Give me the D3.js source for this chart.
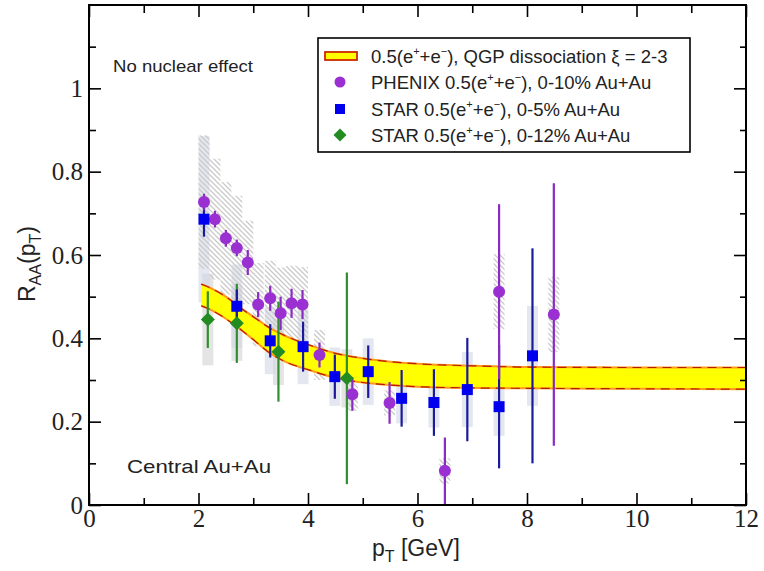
<!DOCTYPE html>
<html><head><meta charset="utf-8">
<script src="https://cdn.jsdelivr.net/npm/d3@7"></script>
<style>body{margin:0;background:#fff}</style>
</head><body>
<svg id="chart" width="764" height="571"></svg>
<script>
// ---- data ----
const phenixPt   = [2.10, 2.30, 2.50, 2.70, 2.90, 3.09, 3.31, 3.50, 3.70, 3.90, 4.21, 4.81, 5.49, 6.50, 7.49, 8.49];
const phenixRaa  = [0.727, 0.686, 0.640, 0.617, 0.582, 0.481, 0.496, 0.460, 0.484, 0.481, 0.360, 0.266, 0.245, 0.082, 0.512, 0.457];
const phenixStat = [0.02, 0.02, 0.02, 0.02, 0.03, 0.03, 0.03, 0.04, 0.035, 0.035, 0.03, 0.04, 0.05, 0.08, 0.21, 0.315];
const phenixSys  = [0.16, 0.145, 0.135, 0.125, 0.10, 0.10, 0.09, 0.11, 0.09, 0.09, 0.06, 0.04, 0.03, 0.03, 0.09, 0.09];

const star5Pt   = [2.10, 2.70, 3.31, 3.91, 4.49, 5.10, 5.71, 6.30, 6.91, 7.49, 8.10];
const star5Raa  = [0.686, 0.477, 0.394, 0.380, 0.308, 0.320, 0.256, 0.246, 0.277, 0.236, 0.358];
const star5Stat = [0.042, 0.040, 0.040, 0.060, 0.053, 0.063, 0.068, 0.080, 0.124, 0.148, 0.258];
const star5Sys  = [0.20, 0.10, 0.08, 0.09, 0.07, 0.08, 0.06, 0.06, 0.09, 0.07, 0.12];

const star12Pt   = [2.17, 2.70, 3.46, 4.71];
const star12Raa  = [0.445, 0.436, 0.368, 0.304];
const star12Stat = [0.068, 0.095, 0.120, 0.254];
const star12Sys  = [0.11, 0.09, 0.08, 0.07];

const bandPt = [2.05, 2.2, 2.5, 2.8, 3.0, 3.3, 3.6, 4.0, 4.5, 5.0, 5.5, 6.0, 7.0, 8.0, 10.0, 12.0];
const bandHi = [0.530, 0.522, 0.500, 0.470, 0.452, 0.425, 0.405, 0.385, 0.364, 0.352, 0.344, 0.339, 0.334, 0.331, 0.330, 0.330];
const bandLo = [0.478, 0.470, 0.447, 0.418, 0.397, 0.365, 0.343, 0.325, 0.305, 0.294, 0.288, 0.284, 0.281, 0.280, 0.279, 0.278];

const xMajor = [0, 2, 4, 6, 8, 10, 12];
const xMinor = [1, 3, 5, 7, 9, 11];
const yMajor = [0, 0.2, 0.4, 0.6, 0.8, 1.0];
const yMinor = [0.1, 0.3, 0.5, 0.7, 0.9, 1.1];

// ---- layout ----
const L = 89, R = 746, T = 5, B = 505;
const x = d3.scaleLinear().domain([0, 12]).range([L, R]);
const y = d3.scaleLinear().domain([0, 1.2]).range([B, T]);
const svg = d3.select("#chart");

const defs = svg.append("defs");
const pat = defs.append("pattern").attr("id", "hatch").attr("patternUnits", "userSpaceOnUse")
  .attr("width", 5).attr("height", 5);
pat.append("path").attr("d", "M-1,-1 L6,6 M-1,4 L1,6 M4,-1 L6,1").attr("stroke", "#cacaca").attr("stroke-width", 1.3);
defs.append("clipPath").attr("id", "plotclip").append("rect")
  .attr("x", L).attr("y", T).attr("width", R - L).attr("height", B - T);

const plot = svg.append("g").attr("clip-path", "url(#plotclip)");

// STAR systematic boxes
const sysW = 0.1;
function sysBoxes(pts, vals, sys, fill) {
  plot.append("g").selectAll("rect").data(pts).join("rect")
    .attr("x", d => x(d - sysW)).attr("width", x(2 * sysW) - x(0))
    .attr("y", (d, i) => y(vals[i] + sys[i]))
    .attr("height", (d, i) => y(vals[i] - sys[i]) - y(vals[i] + sys[i]))
    .attr("fill", fill);
}
sysBoxes(star12Pt, star12Raa, star12Sys, "rgba(210,210,210,0.6)");
sysBoxes(star5Pt, star5Raa, star5Sys, "rgba(210,215,228,0.6)");

// PHENIX hatched systematics
plot.append("g").selectAll("rect").data(phenixPt).join("rect")
  .attr("x", d => x(d - sysW)).attr("width", x(2 * sysW) - x(0))
  .attr("y", (d, i) => y(phenixRaa[i] + phenixSys[i]))
  .attr("height", (d, i) => y(phenixRaa[i] - phenixSys[i]) - y(phenixRaa[i] + phenixSys[i]))
  .attr("fill", "url(#hatch)");

// theory band
const band = bandPt.map((p, i) => ({p, hi: bandHi[i], lo: bandLo[i]}));
plot.append("path").datum(band)
  .attr("d", d3.area().x(d => x(d.p)).y0(d => y(d.lo)).y1(d => y(d.hi)).curve(d3.curveMonotoneX))
  .attr("fill", "#ffff00");
["hi", "lo"].forEach(k => {
  const ln = d3.line().x(d => x(d.p)).y(d => y(d[k])).curve(d3.curveMonotoneX);
  plot.append("path").datum(band).attr("d", ln).attr("fill", "none").attr("stroke", "#ff9a1a").attr("stroke-width", 2);
  plot.append("path").datum(band).attr("d", ln).attr("fill", "none").attr("stroke", "#b81c00").attr("stroke-width", 1.2).attr("stroke-dasharray", "9,6");
});

// error bars
function errBars(pts, vals, err, color) {
  plot.append("g").selectAll("line").data(pts).join("line")
    .attr("x1", d => x(d)).attr("x2", d => x(d))
    .attr("y1", (d, i) => y(vals[i] + err[i])).attr("y2", (d, i) => y(vals[i] - err[i]))
    .attr("stroke", color).attr("stroke-width", 2.2);
}
errBars(star12Pt, star12Raa, star12Stat, "#2f8f2f");
errBars(star5Pt, star5Raa, star5Stat, "#1a1a9a");
errBars(phenixPt, phenixRaa, phenixStat, "#8a2bc2");

// markers
plot.append("g").selectAll("circle").data(phenixPt).join("circle")
  .attr("cx", d => x(d)).attr("cy", (d, i) => y(phenixRaa[i])).attr("r", 6)
  .attr("fill", "#9a2fd2");
plot.append("g").selectAll("rect").data(star5Pt).join("rect")
  .attr("x", d => x(d) - 5.5).attr("y", (d, i) => y(star5Raa[i]) - 5.5)
  .attr("width", 11).attr("height", 11).attr("fill", "#0000ee");
plot.append("g").selectAll("path").data(star12Pt).join("path")
  .attr("transform", (d, i) => `translate(${x(d)},${y(star12Raa[i])})`)
  .attr("d", "M0,-7 L7,0 L0,7 L-7,0 Z").attr("fill", "#228b22");

// ---- axes ----
const tickFont = "Liberation Serif, Times New Roman, serif";
function styleAxis(g) {
  g.select(".domain").remove();
  g.selectAll("line").attr("stroke", "#000").attr("stroke-width", 1.6);
  g.selectAll("text").attr("font-family", tickFont).attr("font-size", 25).attr("fill", "#222");
}
const fmt = d => String(+d.toFixed(1));
svg.append("g").attr("transform", `translate(0,${B})`)
  .call(d3.axisBottom(x).tickValues(xMajor).tickSize(-12).tickPadding(4).tickFormat(fmt)).call(styleAxis);
svg.append("g").attr("transform", `translate(0,${B})`)
  .call(d3.axisBottom(x).tickValues(xMinor).tickSize(-7).tickFormat("")).call(styleAxis);
svg.append("g").attr("transform", `translate(0,${T})`)
  .call(d3.axisTop(x).tickValues(xMajor).tickSize(-12).tickFormat("")).call(styleAxis);
svg.append("g").attr("transform", `translate(0,${T})`)
  .call(d3.axisTop(x).tickValues(xMinor).tickSize(-8).tickFormat("")).call(styleAxis);
svg.append("g").attr("transform", `translate(${L},0)`)
  .call(d3.axisLeft(y).tickValues(yMajor).tickSize(-12).tickPadding(6).tickFormat(fmt)).call(styleAxis);
svg.append("g").attr("transform", `translate(${L},0)`)
  .call(d3.axisLeft(y).tickValues(yMinor).tickSize(-7).tickFormat("")).call(styleAxis);
svg.append("g").attr("transform", `translate(${R},0)`)
  .call(d3.axisRight(y).tickValues(yMajor).tickSize(-12).tickFormat("")).call(styleAxis);
svg.append("g").attr("transform", `translate(${R},0)`)
  .call(d3.axisRight(y).tickValues(yMinor).tickSize(-6).tickFormat("")).call(styleAxis);

svg.append("rect").attr("x", L).attr("y", T).attr("width", R - L).attr("height", B - T)
  .attr("fill", "none").attr("stroke", "#000").attr("stroke-width", 2);

// axis titles
const sans = "Liberation Sans, Arial, sans-serif";
const xt = svg.append("text").attr("x", 372).attr("y", 556).attr("font-family", sans).attr("font-size", 23).attr("fill", "#222");
xt.append("tspan").text("p");
xt.append("tspan").attr("font-size", 16).attr("dy", 6).text("T");
xt.append("tspan").attr("dy", -6).text(" [GeV]");

const yt = svg.append("text").attr("transform", "translate(35,302) rotate(-90)")
  .attr("font-family", sans).attr("font-size", 23).attr("fill", "#222");
yt.append("tspan").text("R");
yt.append("tspan").attr("font-size", 16).attr("dy", 6).text("AA");
yt.append("tspan").attr("dy", -6).text("(p");
yt.append("tspan").attr("font-size", 16).attr("dy", 6).text("T");
yt.append("tspan").attr("dy", -6).text(")");

// annotations
svg.append("text").attr("x", 113).attr("y", 72).attr("font-family", sans).attr("font-size", 17)
  .attr("textLength", 140).attr("lengthAdjust", "spacingAndGlyphs").attr("fill", "#222").text("No nuclear effect");
svg.append("text").attr("x", 127).attr("y", 473).attr("font-family", sans).attr("font-size", 19)
  .attr("textLength", 144).attr("lengthAdjust", "spacingAndGlyphs").attr("fill", "#222").text("Central Au+Au");

// legend
const leg = svg.append("g");
leg.append("rect").attr("x", 318).attr("y", 38).attr("width", 372).attr("height", 114)
  .attr("fill", "#fff").attr("stroke", "#000").attr("stroke-width", 1.6);
const rowsY = [56, 82, 109, 135];
leg.append("rect").attr("x", 325).attr("y", rowsY[0] - 4).attr("width", 32).attr("height", 8)
  .attr("fill", "#ffff00").attr("stroke", "#cc2a00").attr("stroke-width", 1.8);
leg.append("circle").attr("cx", 340).attr("cy", rowsY[1]).attr("r", 5.5).attr("fill", "#9a2fd2");
leg.append("rect").attr("x", 335).attr("y", rowsY[2] - 5).attr("width", 10).attr("height", 10).attr("fill", "#0000ee");
leg.append("path").attr("transform", `translate(340,${rowsY[3]})`).attr("d", "M0,-6.5 L6.5,0 L0,6.5 L-6.5,0 Z").attr("fill", "#228b22");

const legLabels = [
  ["0.5(e", "+", "+e", "−", "), QGP dissociation ξ = 2-3"],
  ["PHENIX 0.5(e", "+", "+e", "−", "), 0-10% Au+Au"],
  ["STAR 0.5(e", "+", "+e", "−", "), 0-5% Au+Au"],
  ["STAR 0.5(e", "+", "+e", "−", "), 0-12% Au+Au"]
];
const legLen = [312, 296, 263, 277];
legLabels.forEach((parts, i) => {
  const t = leg.append("text").attr("x", 371).attr("y", rowsY[i] + 6.5)
    .attr("font-family", sans).attr("font-size", 18.5).attr("fill", "#222");
  t.append("tspan").text(parts[0]);
  t.append("tspan").attr("font-size", 11).attr("dy", -8).text(parts[1]);
  t.append("tspan").attr("dy", 8).text(parts[2]);
  t.append("tspan").attr("font-size", 11).attr("dy", -8).text(parts[3]);
  t.append("tspan").attr("dy", 8).text(parts[4]);
});
</script>
</body></html>
